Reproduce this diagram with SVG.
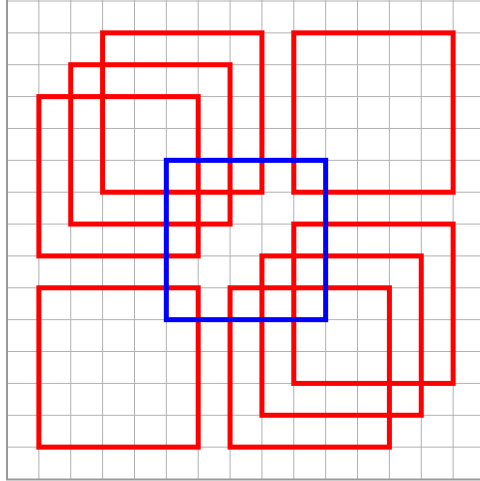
<svg xmlns="http://www.w3.org/2000/svg" width="480" height="481" viewBox="0 0 480 481">
<style>
.grid{stroke:#b0b0b0;stroke-width:1;fill:none}
.spine{stroke:#999999;stroke-width:2;fill:none}
.red{stroke:#ff0000;stroke-width:5;fill:none}
.blue{stroke:#0000ff;stroke-width:5;fill:none}
</style>
<rect x="0" y="0" width="480" height="481" fill="#ffffff"/>
<g id="grid" class="grid">
<path d="M38.87 0V479M70.73 0V479M102.6 0V479M134.47 0V479M166.33 0V479M198.2 0V479M230.07 0V479M261.93 0V479M293.8 0V479M325.67 0V479M357.53 0V479M389.4 0V479M421.27 0V479M453.13 0V479"/>
<path d="M7 447.13H480M7 415.27H480M7 383.4H480M7 351.53H480M7 319.67H480M7 287.8H480M7 255.93H480M7 224.07H480M7 192.2H480M7 160.33H480M7 128.47H480M7 96.6H480M7 64.73H480M7 32.87H480M7 1H480"/>
</g>
<g id="spines" class="spine">
<path d="M7 0V479.5M6 479.5H480"/>
</g>
<g id="sq1"><rect class="red" x="102.6" y="32.87" width="159.33" height="159.33"/></g>
<g id="sq2"><rect class="red" x="70.73" y="64.73" width="159.33" height="159.33"/></g>
<g id="sq3"><rect class="red" x="38.87" y="96.6" width="159.33" height="159.33"/></g>
<g id="sq4"><rect class="red" x="293.8" y="32.87" width="159.33" height="159.33"/></g>
<g id="sq5"><rect class="red" x="38.87" y="287.8" width="159.33" height="159.33"/></g>
<g id="sq6"><rect class="red" x="230.07" y="287.8" width="159.33" height="159.33"/></g>
<g id="sq7"><rect class="red" x="261.93" y="255.93" width="159.33" height="159.33"/></g>
<g id="sq8"><rect class="red" x="293.8" y="224.07" width="159.33" height="159.33"/></g>
<g id="blue"><rect class="blue" x="166.33" y="160.33" width="159.33" height="159.33"/></g>
</svg>
